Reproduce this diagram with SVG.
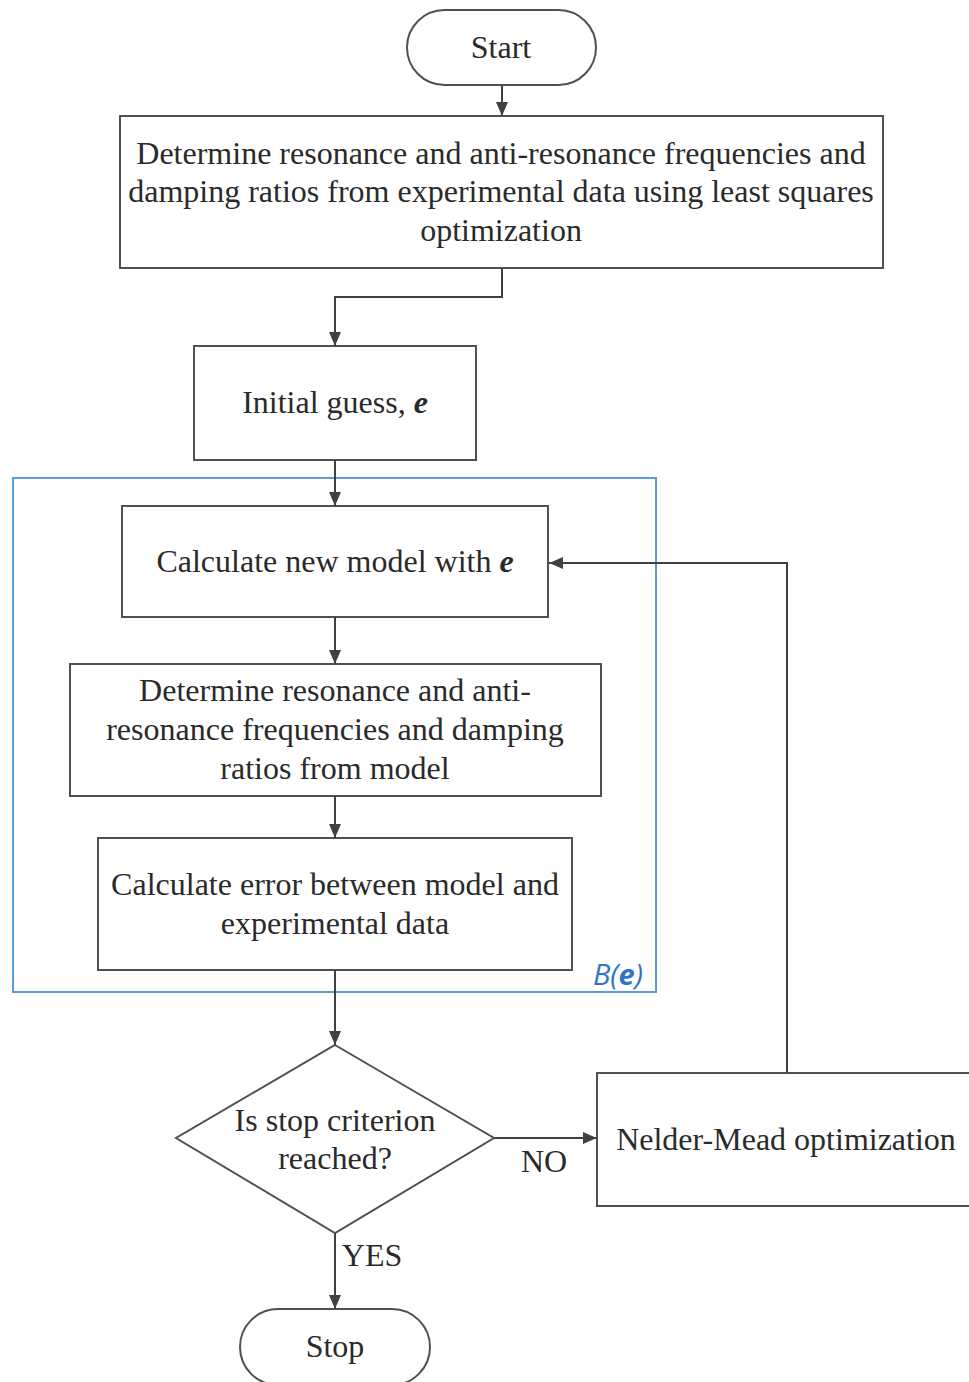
<svg xmlns="http://www.w3.org/2000/svg" width="969" height="1382" viewBox="0 0 969 1382">
<defs>
<marker id="ah" markerWidth="12" markerHeight="14" refX="14" refY="6" orient="auto" markerUnits="userSpaceOnUse">
<path d="M0,0 L14,6 L0,12 Z" fill="#404040"/>
</marker>
<style>
.n{fill:#fff;stroke:#505050;stroke-width:2}
.t{font-family:"Liberation Serif","Times New Roman",serif;font-size:32px;fill:#2a2a2a;text-anchor:middle}
.c{fill:none;stroke:#404040;stroke-width:2;marker-end:url(#ah)}
</style>
</defs>
<rect width="969" height="1382" fill="#fff"/>
<g id="group-B">
<rect x="13" y="478" width="643" height="514" fill="none" stroke="#5b9bd5" stroke-width="2"/>
<text x="643" y="985" font-family="Open Sans,Liberation Sans,sans-serif" font-style="italic" font-size="29" fill="#2e75c4" text-anchor="end">B(<tspan font-weight="bold">e</tspan>)</text>
</g>
<g id="start">
<rect class="n" x="407" y="10" width="189" height="75" rx="37.5"/>
<text class="t" x="501" y="58">Start</text>
</g>
<g id="determine-exp">
<rect class="n" x="120" y="116" width="763" height="152"/>
<text class="t" x="501" y="164">Determine resonance and anti-resonance frequencies and</text>
<text class="t" x="501" y="202">damping ratios from experimental data using least squares</text>
<text class="t" x="501" y="241">optimization</text>
</g>
<g id="initial-guess">
<rect class="n" x="194" y="346" width="282" height="114"/>
<text class="t" x="335" y="413">Initial guess, <tspan font-weight="bold" font-style="italic">e</tspan></text>
</g>
<g id="calc-model">
<rect class="n" x="122" y="506" width="426" height="111"/>
<text class="t" x="335" y="572">Calculate new model with <tspan font-weight="bold" font-style="italic">e</tspan></text>
</g>
<g id="determine-model">
<rect class="n" x="70" y="664" width="531" height="132"/>
<text class="t" x="335" y="701">Determine resonance and anti-</text>
<text class="t" x="335" y="740">resonance frequencies and damping</text>
<text class="t" x="335" y="779">ratios from model</text>
</g>
<g id="calc-error">
<rect class="n" x="98" y="838" width="474" height="132"/>
<text class="t" x="335" y="895">Calculate error between model and</text>
<text class="t" x="335" y="934">experimental data</text>
</g>
<g id="decision">
<polygon class="n" points="335,1045 494,1138 335,1233 176,1138"/>
<text class="t" x="335" y="1131">Is stop criterion</text>
<text class="t" x="335" y="1169">reached?</text>
</g>
<g id="nelder-mead">
<rect class="n" x="597" y="1073" width="385" height="133"/>
<text class="t" x="786" y="1150">Nelder-Mead optimization</text>
</g>
<g id="stop">
<rect class="n" x="240" y="1309" width="190" height="76" rx="38"/>
<text class="t" x="335" y="1357">Stop</text>
</g>
<g id="connectors">
<path class="c" d="M502,85 V116"/>
<path class="c" d="M502,268 V297 H335 V346"/>
<path class="c" d="M335,460 V506"/>
<path class="c" d="M335,617 V664"/>
<path class="c" d="M335,796 V838"/>
<path class="c" d="M335,970 V1045"/>
<path class="c" d="M494,1138 H597"/>
<path class="c" d="M787,1073 V563 H549"/>
<path class="c" d="M335,1233 V1309"/>
<text class="t" x="544" y="1172">NO</text>
<text class="t" x="372" y="1266">YES</text>
</g>
</svg>
